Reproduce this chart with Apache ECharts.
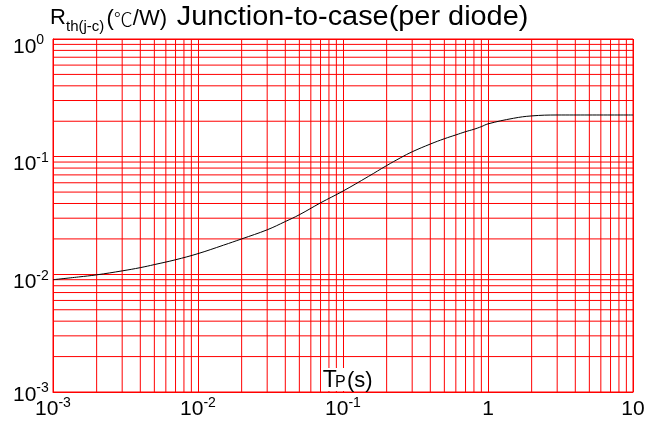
<!DOCTYPE html>
<html>
<head>
<meta charset="utf-8">
<script src="https://cdn.jsdelivr.net/npm/echarts@6/dist/echarts.min.js"></script>
<style>
html,body{margin:0;padding:0;background:#fff;}
#chart{width:666px;height:423px;}
</style>
</head>
<body>
<div id="chart"></div>
<script>
// ---- data ----
const tpSeconds = [0.001, 0.0015, 0.002, 0.003, 0.004, 0.005, 0.007, 0.01, 0.015, 0.02, 0.03, 0.04, 0.05, 0.07, 0.1, 0.15, 0.2, 0.25, 0.3, 0.4, 0.5, 0.6, 0.7, 0.8, 0.9, 1, 1.5, 2, 3, 5, 10];
const rthValues = [0.0090, 0.0095, 0.0099, 0.0107, 0.0114, 0.0121, 0.0133, 0.0150, 0.0177, 0.0200, 0.0239, 0.0281, 0.0321, 0.0405, 0.051, 0.068, 0.084, 0.098, 0.110, 0.128, 0.142, 0.153, 0.163, 0.171, 0.180, 0.190, 0.212, 0.222, 0.226, 0.226, 0.226];
const xTickLabels = { '-3': ['10', '-3'], '-2': ['10', '-2'], '-1': ['10', '-1'], '0': ['1', ''], '1': ['10', ''] };
const yTickLabels = { '-3': ['10', '-3'], '-2': ['10', '-2'], '-1': ['10', '-1'], '0': ['10', '0'] };
const xRange = [0.001, 10];
const yRange = [0.001, 1];
const xDecades = [-3, -2, -1, 0];
const yDecades = [-3, -2, -1];
const minorSteps = [2, 3, 4, 5, 6, 7, 8, 9];

const RED = '#ff0000';
const FONT = '"Liberation Sans", Arial, Helvetica, sans-serif';

function expOf(v) { return String(Math.round(Math.log10(v))); }

// minor log grid lines, drawn as plain red line series through the axes
const gridSeries = [];
xDecades.forEach(d => minorSteps.forEach(m => {
  const v = m * Math.pow(10, d);
  gridSeries.push({ type: 'line', z: 1, silent: true, symbol: 'none', showSymbol: false, color: RED,
    lineStyle: { color: RED, width: 1 }, data: [[v, yRange[0]], [v, yRange[1]]] });
}));
yDecades.forEach(d => minorSteps.forEach(m => {
  const v = m * Math.pow(10, d);
  gridSeries.push({ type: 'line', z: 1, silent: true, symbol: 'none', showSymbol: false, color: RED,
    lineStyle: { color: RED, width: 1 }, data: [[xRange[0], v], [xRange[1], v]] });
}));

const chart = echarts.init(document.getElementById('chart'), null, { renderer: 'canvas' });
chart.setOption({
  animation: false,
  backgroundColor: '#fff',
  grid: { left: 53, top: 39, right: 33, bottom: 31, show: true, borderColor: RED, borderWidth: 1, backgroundColor: 'transparent' },
  xAxis: {
    type: 'log', logBase: 10, min: xRange[0], max: xRange[1],
    axisLine: { show: true, lineStyle: { color: RED, width: 1 } },
    axisTick: { show: false },
    splitLine: { show: true, lineStyle: { color: RED, width: 1 } },
    axisLabel: {
      margin: 7, color: '#000', fontFamily: FONT,
      formatter: v => {
        const l = xTickLabels[expOf(v)];
        if (!l) return '';
        return l[1] ? '{b|' + l[0] + '}{s|' + l[1] + '}' : '{bp|' + l[0] + '}';
      },
      rich: {
        b: { fontSize: 21, lineHeight: 21, verticalAlign: 'bottom', fontFamily: FONT, color: '#000' },
        bp: { fontSize: 21, lineHeight: 21, verticalAlign: 'bottom', padding: [3, 0, 0, 0], fontFamily: FONT, color: '#000' },
        s: { fontSize: 14, lineHeight: 14, verticalAlign: 'bottom', padding: [0, 0, 10, 0], fontFamily: FONT, color: '#000' }
      }
    }
  },
  yAxis: {
    type: 'log', logBase: 10, min: yRange[0], max: yRange[1],
    axisLine: { show: true, lineStyle: { color: RED, width: 1 } },
    axisTick: { show: false },
    splitLine: { show: true, lineStyle: { color: RED, width: 1 } },
    axisLabel: {
      margin: 40, align: 'left', color: '#000', fontFamily: FONT,
      formatter: v => {
        const e = expOf(v);
        const l = yTickLabels[e];
        if (!l) return '';
        return (e === '-3' ? '{e2| }\n' : '{e| }\n') + '{b|' + l[0] + '}{s|' + l[1] + '}';
      },
      rich: {
        e: { fontSize: 8, lineHeight: 16, fontFamily: FONT, color: '#fff' },
        e2: { fontSize: 4, lineHeight: 6, fontFamily: FONT, color: '#fff' },
        b: { fontSize: 21, lineHeight: 21, verticalAlign: 'bottom', fontFamily: FONT, color: '#000' },
        s: { fontSize: 14, lineHeight: 14, verticalAlign: 'bottom', padding: [0, 0, 10, 0], fontFamily: FONT, color: '#000' }
      }
    }
  },
  series: gridSeries.concat([
    {
      type: 'line', z: 5, silent: true, color: '#000',
      data: tpSeconds.map((t, i) => [t, rthValues[i]]),
      showSymbol: false, symbol: 'none',
      smooth: 0.4,
      lineStyle: { color: '#000', width: 1 }
    }
  ]),
  graphic: [
    { type: 'text', x: 50, y: 18.4, z: 100, style: { text: 'R', font: '22px ' + FONT, fill: '#000', verticalAlign: 'middle' } },
    { type: 'text', x: 66, y: 26.5, z: 100, style: { text: 'th(j-c)', font: '15px ' + FONT, fill: '#000', verticalAlign: 'middle' } },
    { type: 'text', x: 106.5, y: 18.6, z: 100, style: {
        text: '{p|(}{c|℃}{p|/W)}', verticalAlign: 'middle', fill: '#000',
        rich: {
          p: { fontSize: 22, fontFamily: FONT, color: '#000', lineHeight: 22, verticalAlign: 'bottom' },
          c: { fontSize: 19, fontFamily: '"Noto Sans CJK SC", "DejaVu Sans", sans-serif', color: '#444', lineHeight: 22, verticalAlign: 'bottom', fontWeight: 300 }
        } } },
    { type: 'text', x: 176.7, y: 17.3, z: 100, scaleX: 1.07, style: { text: 'Junction-to-case(per diode)', font: '27px ' + FONT, fill: '#000', verticalAlign: 'middle' } },
    { type: 'rect', z: 99, shape: { x: 321, y: 368, width: 53, height: 23 }, style: { fill: '#fff' } },
    { type: 'text', x: 322.7, y: 380.3, z: 100, style: { text: 'T', font: '23px ' + FONT, fill: '#000', verticalAlign: 'middle' } },
    { type: 'text', x: 335, y: 382.8, z: 100, style: { text: 'P', font: '16px ' + FONT, fill: '#000', verticalAlign: 'middle' } },
    { type: 'text', x: 347, y: 380.7, z: 100, style: { text: '(s)', font: '22px ' + FONT, fill: '#000', verticalAlign: 'middle' } }
  ]
});
</script>
</body>
</html>
